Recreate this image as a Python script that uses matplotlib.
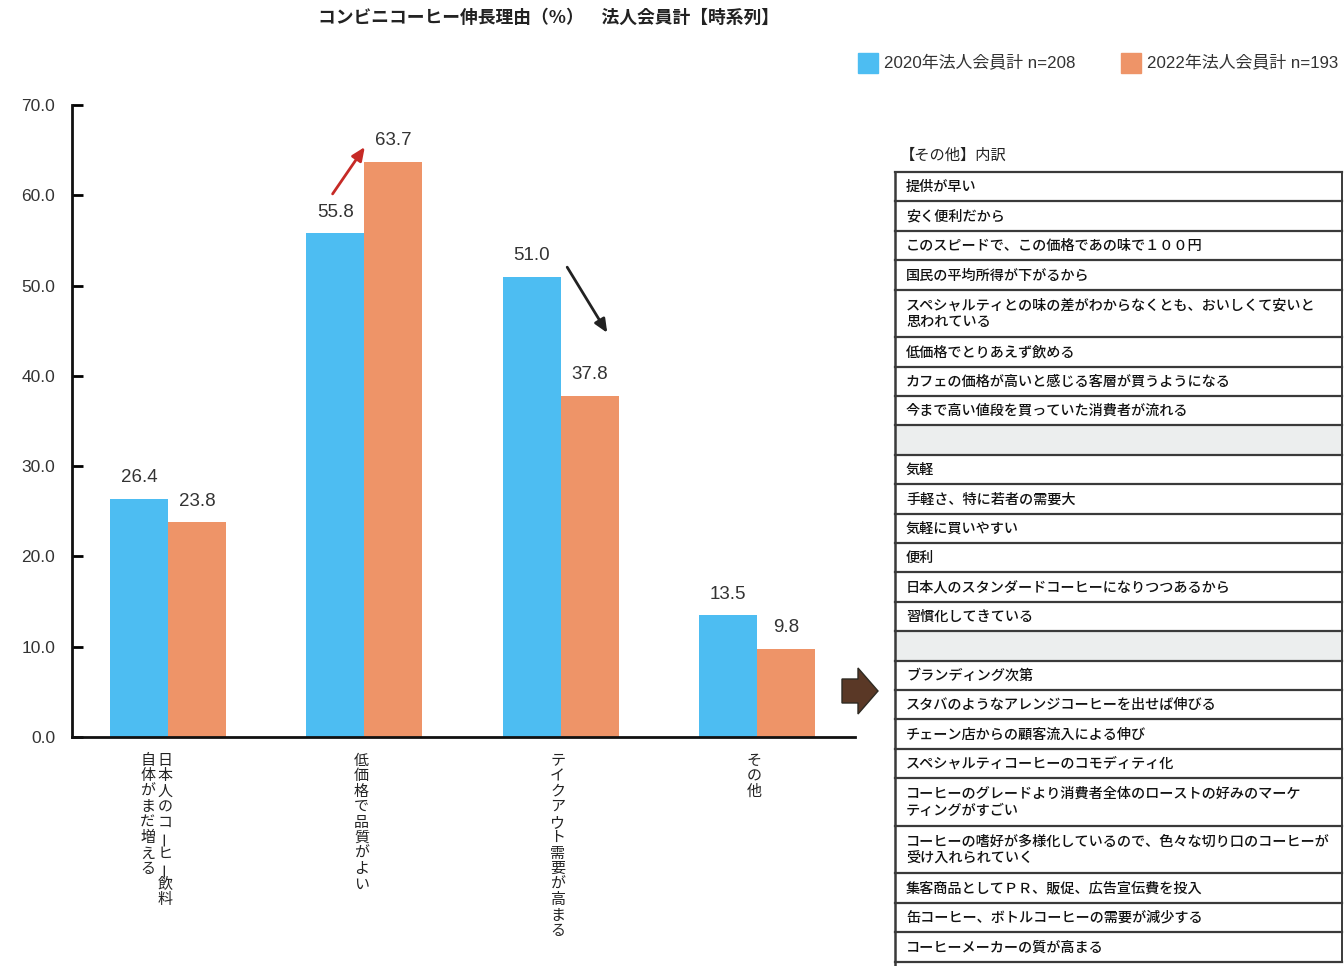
import numpy as np
import matplotlib
matplotlib.use("Agg")
import matplotlib.pyplot as plt
from matplotlib.patches import Rectangle, Polygon

plt.rcParams["font.family"] = ["Liberation Sans", "Noto Sans CJK JP"]

W, H = 1344, 966
JP = ["Noto Sans CJK JP", "DejaVu Sans"]
NUM = ["Liberation Sans", "Noto Sans CJK JP"]

# --- data --------------------------------------------------------------------
title = "コンビニコーヒー伸長理由（%）　法人会員計【時系列】"
series_names = ["2020年法人会員計 n=208", "2022年法人会員計 n=193"]
series_colors = ["#4dbdf2", "#ee9468"]
categories = [
    "日本人のコーヒー飲料\n自体がまだ増える",
    "低価格で品質がよい",
    "テイクアウト需要が高まる",
    "その他",
]
values_2020 = [26.4, 55.8, 51.0, 13.5]
values_2022 = [23.8, 63.7, 37.8, 9.8]
yticks = [0, 10, 20, 30, 40, 50, 60, 70]

other_title = "【その他】内訳"
other_reasons = [
    "提供が早い",
    "安く便利だから",
    "このスピードで、この価格であの味で１００円",
    "国民の平均所得が下がるから",
    "スペシャルティとの味の差がわからなくとも、おいしくて安いと\n思われている",
    "低価格でとりあえず飲める",
    "カフェの価格が高いと感じる客層が買うようになる",
    "今まで高い値段を買っていた消費者が流れる",
    "",
    "気軽",
    "手軽さ、特に若者の需要大",
    "気軽に買いやすい",
    "便利",
    "日本人のスタンダードコーヒーになりつつあるから",
    "習慣化してきている",
    "",
    "ブランディング次第",
    "スタバのようなアレンジコーヒーを出せば伸びる",
    "チェーン店からの顧客流入による伸び",
    "スペシャルティコーヒーのコモディティ化",
    "コーヒーのグレードより消費者全体のローストの好みのマーケ\nティングがすごい",
    "コーヒーの嗜好が多様化しているので、色々な切り口のコーヒーが\n受け入れられていく",
    "集客商品としてＰＲ、販促、広告宣伝費を投入",
    "缶コーヒー、ボトルコーヒーの需要が減少する",
    "コーヒーメーカーの質が高まる",
]

# --- figure ------------------------------------------------------------------
fig = plt.figure(figsize=(W / 100, H / 100), dpi=100)
fig.patch.set_facecolor("white")

ax = fig.add_axes([72 / W, 1 - 737 / H, (855 - 72) / W, (737 - 105) / H])
x = np.arange(len(categories))
bw = 0.296
ax.bar(x - bw / 2, values_2020, bw, color=series_colors[0], zorder=2)
ax.bar(x + bw / 2, values_2022, bw, color=series_colors[1], zorder=2)

for xs, vals in ((x - bw / 2, values_2020), (x + bw / 2, values_2022)):
    for xi, v in zip(xs, vals):
        ax.annotate(f"{v:.1f}", (xi, v), xytext=(0, 9), textcoords="offset points",
                    ha="center", va="bottom", fontsize=13.5, color="#333333",
                    family=NUM)

ax.set_xlim(-0.49, 3.5)
ax.set_ylim(0, 70)
ax.set_yticks(yticks)
ax.set_yticklabels([f"{t:.1f}" for t in yticks], family=NUM, fontsize=12.5,
                   color="#333333")
ax.tick_params(axis="y", direction="in", length=8, width=2, pad=12)
ax.set_xticks([])
for side in ("top", "right"):
    ax.spines[side].set_visible(False)
for side in ("left", "bottom"):
    ax.spines[side].set_linewidth(2)
    ax.spines[side].set_color("#111111")

# change arrows between the two surveys
ax.annotate("", xy=(1 + 0.01, values_2022[1] + 1.9),
            xytext=(1 - 0.17, values_2020[1] + 4.1),
            arrowprops=dict(arrowstyle="-|>,head_length=0.8,head_width=0.35",
                            color="#c62a26", lw=2))
ax.annotate("", xy=(2 + 0.245, values_2022[2] + 6.7),
            xytext=(2 + 0.026, values_2020[2] + 1.3),
            arrowprops=dict(arrowstyle="-|>,head_length=0.8,head_width=0.35",
                            color="#222222", lw=2))

# vertical (tategaki) category labels, first line on the right
step = 15.5 * 0.72
col_gap = 0.09
for xi, label in zip(x, categories):
    cols = label.split("\n")
    n = len(cols)
    for ci, col in enumerate(cols):
        cx = xi - 0.015 - col_gap * ci
        for k, ch in enumerate(col):
            ax.annotate(ch, (cx, 0), xycoords=("data", "axes fraction"),
                        xytext=(0, -17 - k * step), textcoords="offset points",
                        ha="center", va="center", fontsize=10.8, color="#222222",
                        family=JP, rotation=90 if ch == "ー" else 0)

# --- overlay in pixel coordinates: title, legend, breakdown table -----------
ov = fig.add_axes([0, 0, 1, 1])
ov.set_xlim(0, W)
ov.set_ylim(H, 0)
ov.axis("off")
ov.patch.set_visible(False)

ov.text(549, 18, title, ha="center", va="center", fontsize=12.8, weight="bold",
        family=JP, color="#222222")

leg_x = [858, 1121]
for lx, name, c in zip(leg_x, series_names, series_colors):
    ov.add_patch(Rectangle((lx, 53), 20, 20, color=c))
    ov.text(lx + 26, 63.5, name, ha="left", va="center", fontsize=12.2,
            family=NUM, color="#333333")

# block arrow pointing at the breakdown
ov.add_patch(Polygon([(842, 679), (858, 679), (858, 668), (878, 691),
                      (858, 714), (858, 703), (842, 703)],
                     closed=True, facecolor="#5a3826", edgecolor="#2e2a22", lw=1))

ov.text(900, 155, other_title, ha="left", va="center", fontsize=11, family=JP,
        color="#222222")

tx0, tx1 = 895, 1342
y = 172.0
line_c = "#3a3a3a"
ov.plot([tx0, tx1], [y, y], color=line_c, lw=1.6)
for reason in other_reasons:
    nlines = reason.count("\n") + 1
    h = 11.2 + 18.2 * nlines
    if reason == "":
        ov.add_patch(Rectangle((tx0, y), tx1 - tx0, h, facecolor="#eceeee",
                               edgecolor="none"))
    else:
        ov.text(906, y + h / 2 + 0.5, reason, ha="left", va="center",
                fontsize=10.2, family=JP, weight="medium", color="#111111",
                linespacing=1.25)
    y += h
    ov.plot([tx0, tx1], [y, y], color=line_c, lw=1.6)
ov.plot([tx0, tx0], [172, H], color=line_c, lw=1.8)
ov.plot([tx1, tx1], [172, y], color=line_c, lw=1.4)

fig.savefig("out.png", dpi=100)
